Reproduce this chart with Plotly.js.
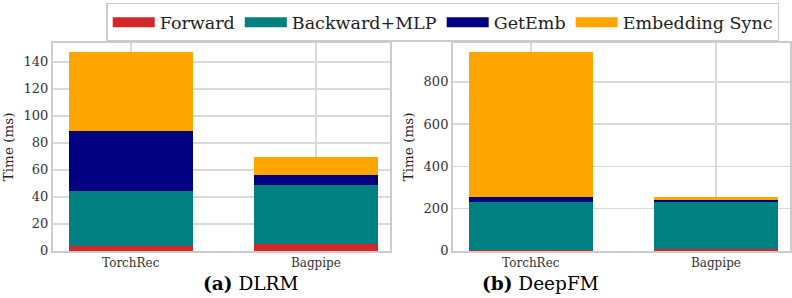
<!DOCTYPE html>
<html><head><meta charset="utf-8">
<script src="https://cdn.plot.ly/plotly-3.0.1.min.js"></script>
<style>html,body{margin:0;padding:0;background:#fff}#chart{width:792px;height:298px}</style>
</head><body><div id="chart"></div>
<script>
const systems = ['TorchRec', 'Bagpipe'];
const seriesNames = ['Forward', 'Backward+MLP', 'GetEmb', 'Embedding Sync'];
const colors = ['#d62728', '#008080', '#000080', '#ffa500'];
// DLRM (ms)
const dlrmForward = [3.5, 5];
const dlrmBackward = [40.5, 43.5];
const dlrmGetEmb = [45, 7.5];
const dlrmSync = [58, 13.3];
// DeepFM (ms)
const dfmForward = [2, 10];
const dfmBackward = [230, 221];
const dfmGetEmb = [24, 11];
const dfmSync = [684, 13];

const dlrm = [dlrmForward, dlrmBackward, dlrmGetEmb, dlrmSync];
const dfm = [dfmForward, dfmBackward, dfmGetEmb, dfmSync];

const font = "DejaVu Serif";
const traces = [];
dlrm.forEach((vals, i) => traces.push({type:'bar', x: systems, y: vals, name: seriesNames[i],
  marker:{color: colors[i], line:{width:0}}, width:0.67, xaxis:'x', yaxis:'y', showlegend:false}));
dfm.forEach((vals, i) => traces.push({type:'bar', x: systems, y: vals, name: seriesNames[i],
  marker:{color: colors[i], line:{width:0}}, width:0.67, xaxis:'x2', yaxis:'y2', showlegend:false}));
// legend entries
seriesNames.forEach((n, i) => traces.push({type:'scatter', mode:'lines', x:[null], y:[null], name:n,
  line:{color: colors[i], width:13}, xaxis:'x', yaxis:'y', hoverinfo:'skip'}));

const xbase = {type:'category', range:[-0.42, 1.4], showgrid:true, gridcolor:'#d9d9d9', gridwidth:1.5,
  showline:true, linecolor:'#cccccc', linewidth:2, mirror:true, ticks:'', zeroline:false,
  tickfont:{family:font, size:12, color:'#333'}, fixedrange:true};
const ybase = {showgrid:true, gridcolor:'#d9d9d9', gridwidth:1.5, showline:true, linecolor:'#cccccc',
  linewidth:2, mirror:true, ticks:'', zeroline:false, tickfont:{family:font, size:13, color:'#333'},
  title:{text:'Time (ms)', font:{family:font, size:13.5, color:'#222'}, standoff:7}, domain:[0.158, 0.856]};

const layout = {
  width:792, height:298, margin:{l:0, r:0, t:0, b:0, autoexpand:false}, paper_bgcolor:'#fff', plot_bgcolor:'#fff',
  barmode:'stack', bargap:0.33,
  font:{family:font},
  xaxis: Object.assign({}, xbase, {domain:[0.0669, 0.4924], anchor:'y'}),
  xaxis2: Object.assign({}, xbase, {domain:[0.572, 0.9975], anchor:'y2'}),
  yaxis: Object.assign({}, ybase, {range:[0, 154], dtick:20, anchor:'x'}),
  yaxis2: Object.assign({}, ybase, {range:[0, 984], dtick:200, anchor:'x2'}),
  legend:{orientation:'h', traceorder:'normal', x:0.559, xanchor:'center', y:0.99, yanchor:'top', bordercolor:'#cccccc',
    borderwidth:1.5, font:{family:font, size:17.5, color:'#222'}, itemwidth:42, bgcolor:'#fff'},
  annotations:[
    {xref:'paper', yref:'paper', x:0.2538, y:0.05, yanchor:'middle', showarrow:false,
     text:'<b>(a)</b> DLRM', font:{family:font, size:18.5, color:'#000'}},
    {xref:'paper', yref:'paper', x:0.7588, y:0.05, yanchor:'middle', showarrow:false,
     text:'<b>(b)</b> DeepFM', font:{family:font, size:18.5, color:'#000'}}
  ],
  showlegend:true
};
Plotly.newPlot('chart', traces, layout, {staticPlot:true, displayModeBar:false});
</script></body></html>
